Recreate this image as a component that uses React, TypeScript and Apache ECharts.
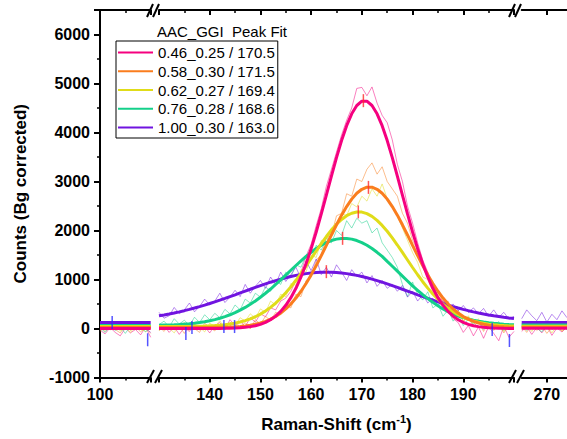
import { useEffect, useRef } from "react";
import * as echarts from "echarts";

const FONT = "Arial, 'Liberation Sans', sans-serif";

const seriesNames = ["0.46_0.25 / 170.5", "0.58_0.30 / 171.5", "0.62_0.27 / 169.4", "0.76_0.28 / 168.6", "1.00_0.30 / 163.0"];
const colors = ["#f5007f", "#fa7d1e", "#e0dc19", "#14d08a", "#7014e0"];

const xLeft = [100, 101, 102, 103, 104, 105, 106, 107, 108, 109, 110];
const xRight = [265, 266, 267, 268, 269, 270, 271, 272, 273, 274];
const xMid = [130, 131, 132, 133, 134, 135, 136, 137, 138, 139, 140, 141, 142, 143, 144, 145, 146, 147, 148, 149, 150, 151, 152, 153, 154, 155, 156, 157, 158, 159, 160, 161, 162, 163, 164, 165, 166, 167, 168, 169, 170, 171, 172, 173, 174, 175, 176, 177, 178, 179, 180, 181, 182, 183, 184, 185, 186, 187, 188, 189, 190, 191, 192, 193, 194, 195, 196, 197, 198, 199, 200];

// Peak fits (middle segment)
const pinkFit = [0, 0, 0, 0, 0, 0, 0, 0, 0, 0, 1, 2, 2, 3, 6, 10, 15, 24, 38, 57, 85, 125, 179, 253, 349, 473, 629, 821, 1052, 1322, 1629, 1970, 2339, 2722, 3111, 3487, 3835, 4139, 4381, 4551, 4639, 4639, 4551, 4381, 4139, 3835, 3487, 3111, 2722, 2339, 1970, 1629, 1322, 1052, 821, 629, 473, 349, 253, 179, 125, 85, 57, 38, 24, 15, 10, 6, 3, 1, 0];
const orangeFit = [20, 20, 20, 20, 20, 20, 20, 21, 21, 21, 22, 23, 24, 27, 30, 35, 43, 53, 67, 87, 112, 146, 190, 246, 314, 399, 501, 621, 760, 918, 1094, 1283, 1487, 1696, 1909, 2116, 2313, 2488, 2640, 2760, 2841, 2884, 2884, 2841, 2760, 2640, 2488, 2313, 2116, 1909, 1696, 1487, 1283, 1094, 918, 760, 621, 501, 399, 314, 246, 190, 146, 112, 87, 67, 53, 43, 35, 30, 27];
const yellowFit = [40, 40, 41, 41, 41, 42, 43, 45, 47, 50, 54, 60, 68, 78, 92, 110, 132, 161, 197, 240, 293, 356, 431, 518, 617, 728, 850, 984, 1126, 1275, 1428, 1582, 1732, 1877, 2010, 2127, 2226, 2302, 2352, 2378, 2376, 2345, 2289, 2207, 2104, 1985, 1849, 1704, 1552, 1398, 1245, 1097, 955, 824, 705, 597, 499, 415, 344, 282, 231, 189, 155, 127, 106, 89, 76, 66, 59, 53, 49];
const greenFit = [67, 70, 73, 77, 83, 90, 98, 109, 122, 138, 158, 181, 209, 242, 280, 323, 374, 430, 493, 562, 638, 719, 806, 898, 993, 1091, 1189, 1286, 1381, 1471, 1555, 1631, 1698, 1753, 1795, 1824, 1838, 1838, 1824, 1795, 1753, 1698, 1631, 1555, 1471, 1370, 1270, 1170, 1070, 970, 870, 780, 690, 610, 535, 465, 400, 345, 295, 255, 222, 195, 170, 150, 132, 118, 106, 96, 88, 82, 77];
const purpleFit = [259, 277, 296, 317, 340, 364, 390, 418, 447, 477, 510, 543, 578, 614, 651, 688, 726, 764, 801, 839, 875, 911, 945, 977, 1008, 1036, 1061, 1084, 1104, 1120, 1133, 1142, 1148, 1150, 1148, 1142, 1133, 1120, 1104, 1084, 1061, 1036, 1008, 977, 945, 911, 875, 839, 801, 764, 726, 688, 651, 614, 578, 543, 510, 477, 447, 418, 390, 364, 340, 317, 296, 277, 259, 244, 228, 215, 203];

// Measured spectra (middle segment)
const pinkData = [-40, 60, -80, 30, -120, 20, -60, 80, -30, 40, -90, 60, 120, -20, 180, 60, 150, 40, 220, 130, 300, 240, 420, 380, 560, 620, 760, 980, 1150, 1480, 1720, 2100, 2450, 2900, 3250, 3600, 3950, 4250, 4500, 4900, 4920, 4750, 4930, 4600, 4350, 4200, 3850, 3350, 3000, 2500, 2150, 1750, 1400, 1150, 900, 650, 560, 380, 200, 120, -80, 60, -150, 30, -200, 40, -100, -250, 50, -180, -60];
const orangeData = [40, -60, 90, -30, 50, -100, 70, 0, -80, 110, 20, -50, 90, -20, 60, 140, 30, 120, -10, 180, 90, 250, 160, 330, 280, 480, 420, 700, 650, 980, 1050, 1400, 1500, 1850, 1900, 2300, 2350, 2750, 2700, 3050, 3000, 3250, 3380, 3150, 3300, 3000, 2850, 2700, 2350, 2150, 1800, 1600, 1250, 1150, 850, 780, 520, 560, 300, 350, 150, 230, 40, 150, -60, 120, -40, 80, -90, 60, -20];
const yellowData = [-50, 80, 10, -90, 60, 120, -40, 90, 30, -70, 110, 40, 160, -10, 130, 60, 220, 150, 300, 210, 400, 330, 560, 480, 700, 650, 920, 880, 1200, 1150, 1500, 1450, 1800, 1750, 2050, 2100, 2350, 2300, 2550, 2480, 2700, 2600, 2850, 2700, 2950, 2650, 2500, 2300, 2050, 1800, 1550, 1350, 1050, 1000, 750, 700, 480, 520, 300, 380, 150, 260, 80, 200, 20, 140, -30, 110, -60, 70, 20];
const greenData = [80, 150, 30, 200, 90, 170, 60, 230, 120, 280, 180, 310, 220, 390, 300, 480, 380, 600, 520, 720, 640, 850, 760, 980, 900, 1150, 1050, 1300, 1250, 1500, 1420, 1700, 1600, 1850, 1750, 2000, 1900, 2200, 2050, 2250, 2150, 2200, 1950, 2050, 1750, 1600, 1450, 1250, 900, 650, 950, 700, 580, 750, 420, 500, 250, 380, 150, 280, 60, 200, 90, 170, -20, 120, 40, 140, -40, 90, 50];
const purpleData = [330, 210, 260, 430, 300, 380, 520, 340, 450, 600, 480, 560, 720, 530, 640, 780, 650, 900, 720, 860, 980, 820, 1050, 900, 1150, 960, 1100, 1250, 1020, 1380, 1180, 1420, 1100, 1250, 1050, 1300, 1150, 980, 1200, 1060, 1150, 930, 1080, 860, 980, 820, 900, 760, 880, 640, 760, 560, 690, 520, 620, 470, 560, 430, 500, 360, 470, 330, 420, 300, 410, 250, 380, 230, 330, 190, 250];

// Left and right segments
const pinkLeft = [-30, -110, 20, -80, -150, 10, -90, -20, -130, 30, -180];
const orangeLeft = [30, -60, 50, -20, -90, 60, -40, 40, -70, 20, -100];
const yellowLeft = [-60, 40, -30, 60, -50, 20, -80, 50, -20, -60, 10];
const greenLeft = [20, -80, 60, -40, 30, -100, 50, -20, 40, -70, 30];
const purpleLeft = [100, 20, 140, 50, 10, 120, -20, 80, 40, 0, -80];
const pinkRight = [-60, 40, -120, 20, -90, 50, -140, 10, -70, 30];
const orangeRight = [50, -80, 90, -40, 60, -100, 30, 80, -60, 40];
const yellowRight = [-30, 70, -60, 100, -20, 50, -90, 60, -40, 20];
const greenRight = [80, -40, 120, 10, -70, 90, -20, 60, 150, -30];
const purpleRight = [200, 380, 260, 160, 330, 130, 290, 180, 360, 220];

const leftBaselines = [0, 20, 40, 60, 123];
const rightBaselines = [5, 25, 45, 70, 123];

// Peak position marks (red) and baseline anchor marks (blue)
const peakMarkX = [170.3, 171.3, 169.3, 166.2, 163.0];
const peakMarkY = [4650, 2880, 2380, 1840, 1160];
const anchorLeftX = [102.4, 109.4];
const anchorLeftY = [120, -230];
const anchorMidX = [135.3, 136.5, 142.8, 144.9, 195.7, 199.1];
const anchorMidY = [-100, 20, 40, 40, -20, -245];

const yTicks = { min: -1000, max: 6500, interval: 1000 };
const xLabelsMid = [140, 150, 160, 170, 180, 190];

const fits = [pinkFit, orangeFit, yellowFit, greenFit, purpleFit];
const datas = [pinkData, orangeData, yellowData, greenData, purpleData];
const lefts = [pinkLeft, orangeLeft, yellowLeft, greenLeft, purpleLeft];
const rights = [pinkRight, orangeRight, yellowRight, greenRight, purpleRight];

const zip = (xs: number[], ys: number[]) => xs.map((x, i) => [x, ys[i]]);

export default function App() {
  const ref = useRef<HTMLDivElement>(null);
  useEffect(() => {
    if (!ref.current) return;
    const chart = echarts.init(ref.current, null, { renderer: "svg" });
    const black = "#000";
    const tickLabel = { fontSize: 16, fontWeight: "bold", color: black, fontFamily: FONT };
    const axisLine = { show: true, onZero: false, lineStyle: { color: black, width: 2 } };
    const grids = [
      { left: 100, top: 10, width: 50.7, height: 367.5 },
      { left: 159, top: 10, width: 355, height: 367.5 },
      { left: 521.7, top: 10, width: 45.6, height: 367.5 },
    ];
    const xRanges = [
      { min: 100, max: 110, interval: 10, labels: [100] },
      { min: 130, max: 200, interval: 10, labels: xLabelsMid },
      { min: 265, max: 274, interval: 5, labels: [270] },
    ];
    const xAxes: any[] = [];
    xRanges.forEach((r, g) => {
      xAxes.push({
        type: "value", gridIndex: g, position: "bottom", min: r.min, max: r.max, interval: r.interval,
        axisLine, splitLine: { show: false },
        axisTick: g === 2 ? { show: true, length: 5, customValues: [270], lineStyle: { color: black, width: 2 } } : { show: true, length: 5, lineStyle: { color: black, width: 2 } },
        minorTick: { show: g !== 2, splitNumber: 2, length: 3, lineStyle: { color: black, width: 1.5 } },
        axisLabel: { ...tickLabel, margin: 9, customValues: r.labels, formatter: (v: number) => String(v) },
        ...(g === 1
          ? {
              name: "{t|Raman-Shift (cm}{s|-1}{t|)}",
              nameLocation: "middle",
              nameGap: 36,
              nameTextStyle: {
                rich: {
                  t: { fontSize: 17, fontWeight: "bold", color: black, fontFamily: FONT, lineHeight: 22 },
                  s: { fontSize: 11, fontWeight: "bold", color: black, fontFamily: FONT, verticalAlign: "top", lineHeight: 22, padding: [0, 0, 6, 0] },
                },
              },
            }
          : {}),
      });
    });
    xRanges.forEach((r, g) => {
      xAxes.push({
        type: "value", gridIndex: g, position: "top", min: r.min, max: r.max, interval: r.interval,
        axisLine, splitLine: { show: false },
        axisTick: g === 2 ? { show: true, inside: true, length: 5, customValues: [270], lineStyle: { color: black, width: 2 } } : { show: true, inside: true, length: 5, lineStyle: { color: black, width: 2 } },
        minorTick: { show: g !== 2, splitNumber: 2, length: 3, lineStyle: { color: black, width: 1.5 } },
        axisLabel: { show: false },
      });
    });
    const yAxes: any[] = [0, 1, 2].map((g) => ({
      type: "value", gridIndex: g, ...yTicks,
      show: g === 0,
      axisLine: { show: true, lineStyle: { color: black, width: 2 } },
      axisTick: { show: true, length: 6, lineStyle: { color: black, width: 2 } },
      minorTick: { show: true, splitNumber: 2, length: 3, lineStyle: { color: black, width: 1.5 } },
      splitLine: { show: false },
      axisLabel: { ...tickLabel, margin: 10, showMaxLabel: false, formatter: (v: number) => String(v) },
      name: "Counts (Bg corrected)",
      nameLocation: "middle",
      nameGap: 71,
      nameTextStyle: { fontSize: 17, fontWeight: "bold", color: black, fontFamily: FONT },
    }));

    const series: any[] = [];
    // fits (thick)
    seriesNames.forEach((n, i) => {
      const base = { name: n, type: "line", showSymbol: false, symbol: "none", lineStyle: { color: colors[i], width: 3 }, itemStyle: { color: colors[i] } };
      series.push({ ...base, xAxisIndex: 1, yAxisIndex: 1, z: 8 - i, data: zip(xMid, fits[i]) });
      series.push({ ...base, xAxisIndex: 0, yAxisIndex: 0, z: 8 - i, data: [[xLeft[0], leftBaselines[i]], [xLeft[xLeft.length - 1], leftBaselines[i]]] });
      series.push({ ...base, xAxisIndex: 2, yAxisIndex: 2, z: 8 - i, data: [[xRight[0], rightBaselines[i]], [xRight[xRight.length - 1], rightBaselines[i]]] });
    });
    // measured data (thin)
    seriesNames.forEach((n, i) => {
      const base = { name: n + " data", type: "line", showSymbol: false, symbol: "none", z: 2, lineStyle: { color: colors[i], width: 1, opacity: 0.5 }, itemStyle: { color: colors[i] } };
      series.push({ ...base, xAxisIndex: 1, yAxisIndex: 1, data: zip(xMid, datas[i]) });
      series.push({ ...base, xAxisIndex: 0, yAxisIndex: 0, data: zip(xLeft, lefts[i]) });
      series.push({ ...base, xAxisIndex: 2, yAxisIndex: 2, data: zip(xRight, rights[i]) });
    });
    series.push({ name: "peak", type: "scatter", xAxisIndex: 1, yAxisIndex: 1, z: 10, symbol: "rect", symbolSize: [1.5, 13], itemStyle: { color: "#ff2a2a" }, data: zip(peakMarkX, peakMarkY) });
    series.push({ name: "anchor", type: "scatter", xAxisIndex: 1, yAxisIndex: 1, z: 10, symbol: "rect", symbolSize: [1.5, 13], itemStyle: { color: "#2b2bff" }, data: zip(anchorMidX, anchorMidY) });
    series.push({ name: "anchor", type: "scatter", xAxisIndex: 0, yAxisIndex: 0, z: 10, symbol: "rect", symbolSize: [1.5, 13], itemStyle: { color: "#2b2bff" }, data: zip(anchorLeftX, anchorLeftY) });

    const slash = (x1: number, y1: number, x2: number, y2: number) => ({ type: "line", silent: true, z: 100, shape: { x1, y1, x2, y2 }, style: { stroke: black, lineWidth: 2 } });

    chart.setOption({
      animation: false,
      backgroundColor: "#fff",
      grid: grids,
      xAxis: xAxes,
      yAxis: yAxes,
      legend: {
        data: seriesNames.map((n, i) => ({ name: n, icon: "rect", itemStyle: { color: colors[i] } })),
        orient: "vertical",
        left: 116,
        top: 41,
        itemWidth: 35,
        itemHeight: 2,
        itemGap: 3.75,
        padding: [4, 3, 3, 2],
        borderColor: black,
        borderWidth: 1,
        backgroundColor: "#fff",
        textStyle: { fontSize: 15, color: black, fontFamily: FONT, lineHeight: 15 },
        selectedMode: false,
      },
      graphic: [
        { type: "text", left: 157, top: 24, style: { text: "AAC_GGI  Peak Fit", fontSize: 15, fontFamily: FONT, fill: black } },
        slash(147, 383, 154, 370), slash(155, 383, 162, 370),
        slash(147, 17, 153, 4), slash(153, 17, 159, 4),
        slash(509, 383, 516, 370), slash(517, 383, 524, 370),
        slash(509, 17, 515, 4), slash(515, 17, 521, 4),
      ],
      series,
    });
    return () => chart.dispose();
  }, []);
  return <div ref={ref} style={{ position: "absolute", left: 0, top: 0, width: 567, height: 439 }} />;
}
